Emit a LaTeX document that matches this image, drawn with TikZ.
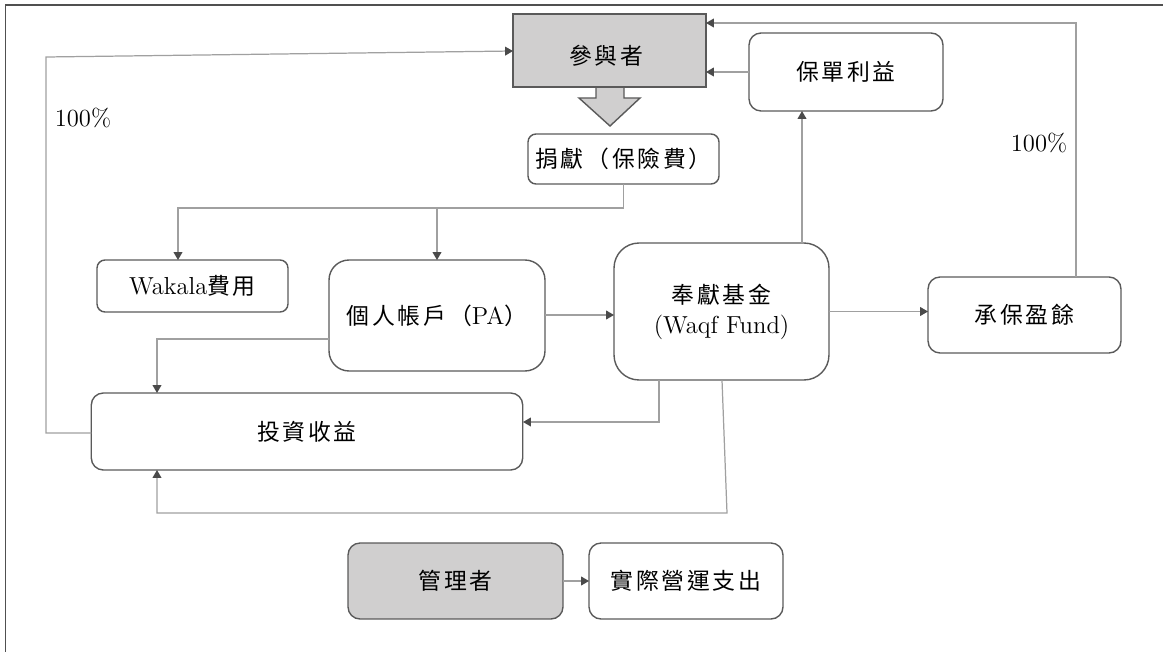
\documentclass[tikz,border=0pt]{standalone}
\usepackage{fontspec}
\newfontfamily\cjk{Noto Sans CJK TC}[LetterSpace=12]
\usetikzlibrary{arrows.meta}
\definecolor{boxgray}{HTML}{D0CFCF}
\definecolor{edge}{HTML}{5A5A5A}
\definecolor{wirec}{HTML}{A0A0A0}
\definecolor{tipc}{HTML}{4A4A4A}
\definecolor{framec}{HTML}{505050}
\newcommand{\zh}[1]{{\cjk\fontsize{13}{16}\selectfont #1}}
\tikzset{
  box/.style={draw=edge, line width=0.8pt, inner sep=0pt, outer sep=0pt,
    align=center, font=\fontsize{14}{17}\selectfont},
  greybox/.style={box, fill=boxgray},
  wire/.style={draw=wirec, line width=0.7pt},
  flow/.style={wire, -{Triangle[length=4.5pt,width=5pt,color=tipc]}},
  pct/.style={font=\fontsize{14}{16}\selectfont, inner sep=0pt},
}
\begin{document}
\begin{tikzpicture}[x=0.02cm,y=-0.02cm]
\useasboundingbox (0,0) rectangle (1163,652);
% outer frame (left and top edges)
\draw[draw=framec, line width=1.1pt] (5.5,652) -- (5.5,5) -- (1163,5);

% block arrow under the participants box
\path[fill=boxgray, draw=edge, line width=0.8pt]
  (596,87) -- (596,98) -- (579,98) -- (610,126) -- (640,98) -- (624,98) -- (624,87);

% boxes
\node[greybox, minimum width=3.86cm, minimum height=1.46cm] (part) at (609.5,50.5) {};
\node[inner sep=0pt] (partlbl) at (606,56) {\zh{參與者}};
\node[box, rounded corners=0.16cm, minimum width=3.82cm, minimum height=1.00cm] (don) at (623.5,159) {\zh{捐獻（保險費）}};
\node[box, rounded corners=0.24cm, minimum width=3.88cm, minimum height=1.56cm] (bene) at (846,72) {\zh{保單利益}};
\node[box, rounded corners=0.16cm, minimum width=3.82cm, minimum height=1.04cm] (wak) at (192.5,286) {Wakala\zh{費用}};
\node[box, rounded corners=0.4cm, minimum width=4.32cm, minimum height=2.22cm] (pa) at (437,315.5) {\zh{個人帳戶（}PA\zh{）}};
\node[box, rounded corners=0.5cm, minimum width=4.30cm, minimum height=2.74cm] (waqf) at (721.5,311.5) {\zh{奉獻基金}\\[0pt](Waqf Fund)};
\node[box, rounded corners=0.24cm, minimum width=3.86cm, minimum height=1.52cm] (surp) at (1024.5,315) {\zh{承保盈餘}};
\node[box, rounded corners=0.24cm, minimum width=8.63cm, minimum height=1.54cm] (inv) at (307,431.5) {\zh{投資收益}};
\node[greybox, rounded corners=0.24cm, minimum width=4.30cm, minimum height=1.52cm] (mgr) at (455.5,581) {\zh{管理者}};
\node[box, rounded corners=0.24cm, minimum width=3.88cm, minimum height=1.52cm] (ops) at (686,581) {\zh{實際營運支出}};

% percentage labels
\node[pct] (pctl) at (83,118) {100\%};
\node[pct] (pctr) at (1039,143) {100\%};

% junction and end points of the routed connectors
\coordinate (split) at (623.5,208);
\coordinate (wakin) at (178,260);
\coordinate (up) at (802,243);
\coordinate (sx) at (1076,277);
\coordinate (tx) at (706,23);
\coordinate (lc) at (46,433);
\coordinate (tc) at (46,57);
\coordinate (pin) at (513,51);
\coordinate (pl) at (329,339);
\coordinate (ia) at (157,393);
\coordinate (wb1) at (659,380);
\coordinate (ie) at (523,422);
\coordinate (wb2) at (722,380);
\coordinate (lowr) at (727,513);
\coordinate (ib) at (157,470);

% connectors
\draw[flow] (don.south) -- (split) -| (wakin);
\draw[flow] (pa.north |- split) -- (pa.north);
\draw[flow] (pa.east |- 0,315) -- (waqf.west |- 0,315);
\draw[flow] (waqf.east) -- (waqf.east -| surp.west);
\draw[flow] (up) -- (up |- bene.south);
\draw[flow] (sx) |- (tx);
\draw[flow] (bene.west) -- (bene.west -| part.east);
\draw[flow] (inv.west |- lc) -- (lc) -- (tc) -- (pin);
\draw[flow] (pl) -| (ia);
\draw[flow] (wb1) |- (ie);
\draw[flow] (wb2) -- (lowr) -| (ib);
\draw[flow] (mgr.east) -- (ops.west);
\end{tikzpicture}
\end{document}
